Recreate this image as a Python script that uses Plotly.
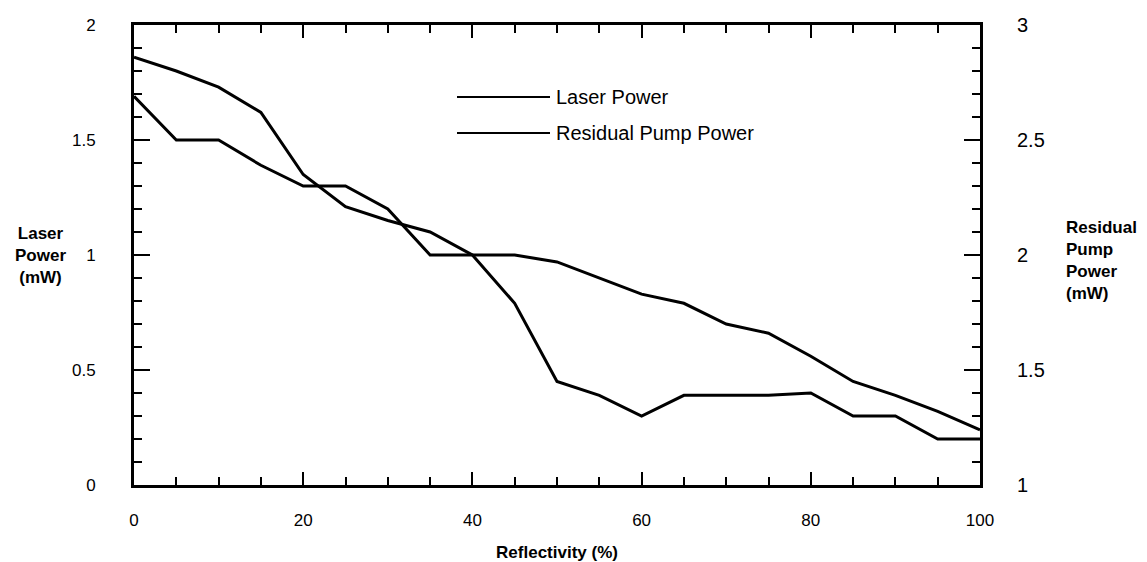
import plotly.graph_objects as go

# ---- data ----
reflectivity = [0, 5, 10, 15, 20, 25, 30, 35, 40, 45, 50, 55, 60, 65, 70, 75, 80, 85, 90, 95, 100]
laser_power = [1.69, 1.50, 1.50, 1.39, 1.30, 1.30, 1.20, 1.00, 1.00, 1.00, 0.97, 0.90,
               0.83, 0.79, 0.70, 0.66, 0.56, 0.45, 0.39, 0.32, 0.24]
residual_pump_power = [2.86, 2.80, 2.73, 2.62, 2.35, 2.21, 2.15, 2.10, 2.00, 1.79, 1.45, 1.39,
                       1.30, 1.39, 1.39, 1.39, 1.40, 1.30, 1.30, 1.20, 1.20]

series_names = ["Laser Power", "Residual Pump Power"]
x_title = "Reflectivity (%)"
y_title = "Laser<br>Power<br>(mW)"
y2_title = "Residual<br>Pump<br>Power<br>(mW)"

FONT = "Liberation Sans, Arial, Helvetica, sans-serif"
W, H = 1147, 562
ML, MR, MT, MB = 134, 167, 25, 77
PW, PH = W - ML - MR, H - MT - MB


def px_x(px):
    return (px - ML) / PW


def px_y(py):
    return (H - MB - py) / PH


fig = go.Figure()
fig.add_trace(go.Scatter(x=reflectivity, y=laser_power, mode="lines", name=series_names[0],
                         line=dict(color="black", width=3), yaxis="y", showlegend=False))
fig.add_trace(go.Scatter(x=reflectivity, y=residual_pump_power, mode="lines", name=series_names[1],
                         line=dict(color="black", width=3), yaxis="y2", showlegend=False))

axis_common = dict(showgrid=False, zeroline=False, showline=True, linecolor="black", linewidth=3,
                   ticks="inside", tickcolor="black", tickwidth=2, automargin=False)

fig.update_layout(
    width=W, height=H,
    margin=dict(l=ML, r=MR, t=MT, b=MB),
    paper_bgcolor="white", plot_bgcolor="white",
    font=dict(family=FONT, color="black"),
    xaxis=dict(range=[0, 100], tick0=0, dtick=20, ticklen=13, mirror="ticks",
               minor=dict(dtick=5, ticks="inside", ticklen=8, tickwidth=2, tickcolor="black"),
               tickfont=dict(size=17), ticklabelstandoff=18,
               title=dict(text=x_title, font=dict(size=17, weight="bold"), standoff=18),
               **axis_common),
    yaxis=dict(range=[0, 2], tick0=0, dtick=0.5, ticklen=16,
               minor=dict(dtick=0.1, ticks="inside", ticklen=8, tickwidth=2, tickcolor="black"),
               tickfont=dict(size=17), ticklabelstandoff=32, **axis_common),
    yaxis2=dict(range=[1, 3], tick0=1, dtick=0.5, ticklen=16, overlaying="y", side="right",
                minor=dict(dtick=0.1, ticks="inside", ticklen=8, tickwidth=2, tickcolor="black"),
                tickfont=dict(size=20), ticklabelstandoff=30, **axis_common),
)

# axis titles for the two y axes (horizontal, as in the reference)
fig.add_annotation(text=y_title, xref="paper", yref="paper", x=px_x(40), y=px_y(255),
                   xanchor="center", yanchor="middle", align="center", showarrow=False,
                   font=dict(size=17, weight="bold"))
fig.add_annotation(text=y2_title, xref="paper", yref="paper", x=px_x(1064), y=px_y(260),
                   xanchor="left", yanchor="middle", align="left", showarrow=False,
                   font=dict(size=17, weight="bold"))

# legend drawn inside the plot
legend_y = [97, 133]
for name, ly in zip(series_names, legend_y):
    fig.add_shape(type="line", xref="paper", yref="paper", x0=px_x(457), x1=px_x(550),
                  y0=px_y(ly), y1=px_y(ly), line=dict(color="black", width=2))
    fig.add_annotation(text=name, xref="paper", yref="paper", x=px_x(554), y=px_y(ly),
                       xanchor="left", yanchor="middle", showarrow=False,
                       font=dict(size=20))

fig.write_html("out.html")
